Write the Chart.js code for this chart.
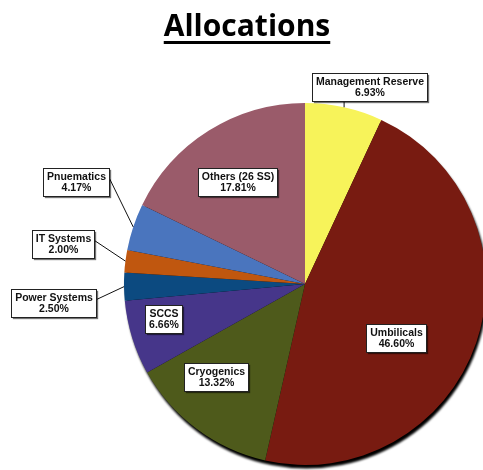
<!DOCTYPE html>
<html>
<head>
<meta charset="utf-8">
<title>Allocations</title>
<script src="https://cdn.jsdelivr.net/npm/chart.js@4/dist/chart.umd.min.js"></script>
<style>
  html, body { margin: 0; padding: 0; background: #ffffff; }
  canvas { display: block; }
</style>
</head>
<body>
<canvas id="chart" width="483" height="470"></canvas>
<script>
// Budget allocation by subsystem, clockwise from 12 o'clock
const categories = ['Management Reserve', 'Umbilicals', 'Cryogenics', 'SCCS',
                    'Power Systems', 'IT Systems', 'Pnuematics', 'Others (26 SS)'];
const shares = [6.93, 46.60, 13.32, 6.66, 2.50, 2.00, 4.17, 17.81];
const sliceColors = ['#f7f35a', '#781b11', '#4e5a1b', '#46368a',
                     '#0c4a80', '#c0570f', '#4a75be', '#9a5b6a'];
// Callout box centres, as offsets from the pie centre in units of the radius
const calloutOffsets = [[0.356, -1.086], [0.50, 0.297], [-0.492, 0.514], [-0.781, 0.194],
                        [-1.392, 0.103], [-1.336, -0.222], [-1.264, -0.564], [-0.372, -0.564]];
const chartTitle = 'Allocations';

// Underlined heading above the pie
const titlePlugin = {
  id: 'underlinedTitle',
  afterDraw(chart) {
    const ctx = chart.ctx;
    ctx.save();
    ctx.font = 'bold 30px "Open Sans", sans-serif';
    ctx.fillStyle = '#000';
    ctx.textAlign = 'center';
    ctx.textBaseline = 'alphabetic';
    const cx = 247, baseY = 36;
    ctx.fillText(chartTitle, cx, baseY);
    const w = ctx.measureText(chartTitle).width;
    ctx.fillRect(cx - w / 2, baseY + 5, w, 3);
    ctx.restore();
  }
};

// Dark rim under the pie for a slight raised look
const rimPlugin = {
  id: 'pieRim',
  beforeDatasetsDraw(chart) {
    const arc = chart.getDatasetMeta(0).data[0];
    if (!arc) return;
    const { x, y, outerRadius } = arc.getProps(['x', 'y', 'outerRadius'], true);
    const ctx = chart.ctx;
    ctx.save();
    ctx.filter = 'blur(1.2px)';
    ctx.fillStyle = '#000';
    ctx.beginPath();
    ctx.arc(x + 1.5, y + 3.5, outerRadius, 0, Math.PI * 2);
    ctx.fill();
    ctx.restore();
  }
};

// Boxed data labels with leader lines for the ones outside the pie
const calloutPlugin = {
  id: 'callouts',
  afterDatasetsDraw(chart) {
    const ctx = chart.ctx;
    const meta = chart.getDatasetMeta(0);
    meta.data.forEach((arc, i) => {
      const { x, y, startAngle, endAngle, outerRadius } =
        arc.getProps(['x', 'y', 'startAngle', 'endAngle', 'outerRadius'], true);
      const mid = (startAngle + endAngle) / 2;
      const ax = x + Math.cos(mid) * outerRadius;
      const ay = y + Math.sin(mid) * outerRadius;
      const [ox, oy] = calloutOffsets[i];
      const bx = x + ox * outerRadius;
      const by = y + oy * outerRadius;

      ctx.save();
      ctx.font = 'bold 10.5px "Liberation Sans", Arial, sans-serif';
      const lines = [categories[i], shares[i].toFixed(2) + '%'];
      const w = Math.round(Math.max(...lines.map(l => ctx.measureText(l).width)) + 7);
      const h = 28;
      const left = Math.round(bx - w / 2) + 0.5;
      const top = Math.round(by - h / 2) + 0.5;

      if (Math.hypot(bx - x, by - y) > outerRadius) {
        let px, py;
        if (ax >= left && ax <= left + w) {
          px = ax;
          py = by < ay ? top + h : top;
        } else if (left + w < ax) {
          px = left + w; py = top + 10;
        } else {
          px = left; py = top + 10;
        }
        ctx.strokeStyle = '#111';
        ctx.lineWidth = 1;
        ctx.beginPath();
        ctx.moveTo(px, py);
        ctx.lineTo(ax, ay);
        ctx.stroke();
      }

      ctx.shadowColor = 'rgba(0,0,0,0.55)';
      ctx.shadowOffsetX = 1.5;
      ctx.shadowOffsetY = 1.5;
      ctx.shadowBlur = 1;
      ctx.fillStyle = '#ffffff';
      ctx.fillRect(left, top, w, h);
      ctx.shadowColor = 'transparent';
      ctx.strokeStyle = '#222';
      ctx.lineWidth = 1;
      ctx.strokeRect(left, top, w, h);

      ctx.fillStyle = '#111';
      ctx.textAlign = 'center';
      ctx.textBaseline = 'middle';
      ctx.fillText(lines[0], left + w / 2, top + 9);
      ctx.fillText(lines[1], left + w / 2, top + 19.5);
      ctx.restore();
    });
  }
};

new Chart(document.getElementById('chart'), {
  type: 'pie',
  data: {
    labels: categories,
    datasets: [{
      data: shares,
      backgroundColor: sliceColors,
      borderWidth: 0,
      hoverOffset: 0,
      clip: false
    }]
  },
  options: {
    responsive: false,
    animation: false,
    radius: 181,
    layout: { padding: { left: 127, right: 0, top: 98, bottom: 0 } },
    plugins: {
      legend: { display: false },
      tooltip: { enabled: false },
      title: { display: false }
    }
  },
  plugins: [rimPlugin, calloutPlugin, titlePlugin]
});
</script>
</body>
</html>
